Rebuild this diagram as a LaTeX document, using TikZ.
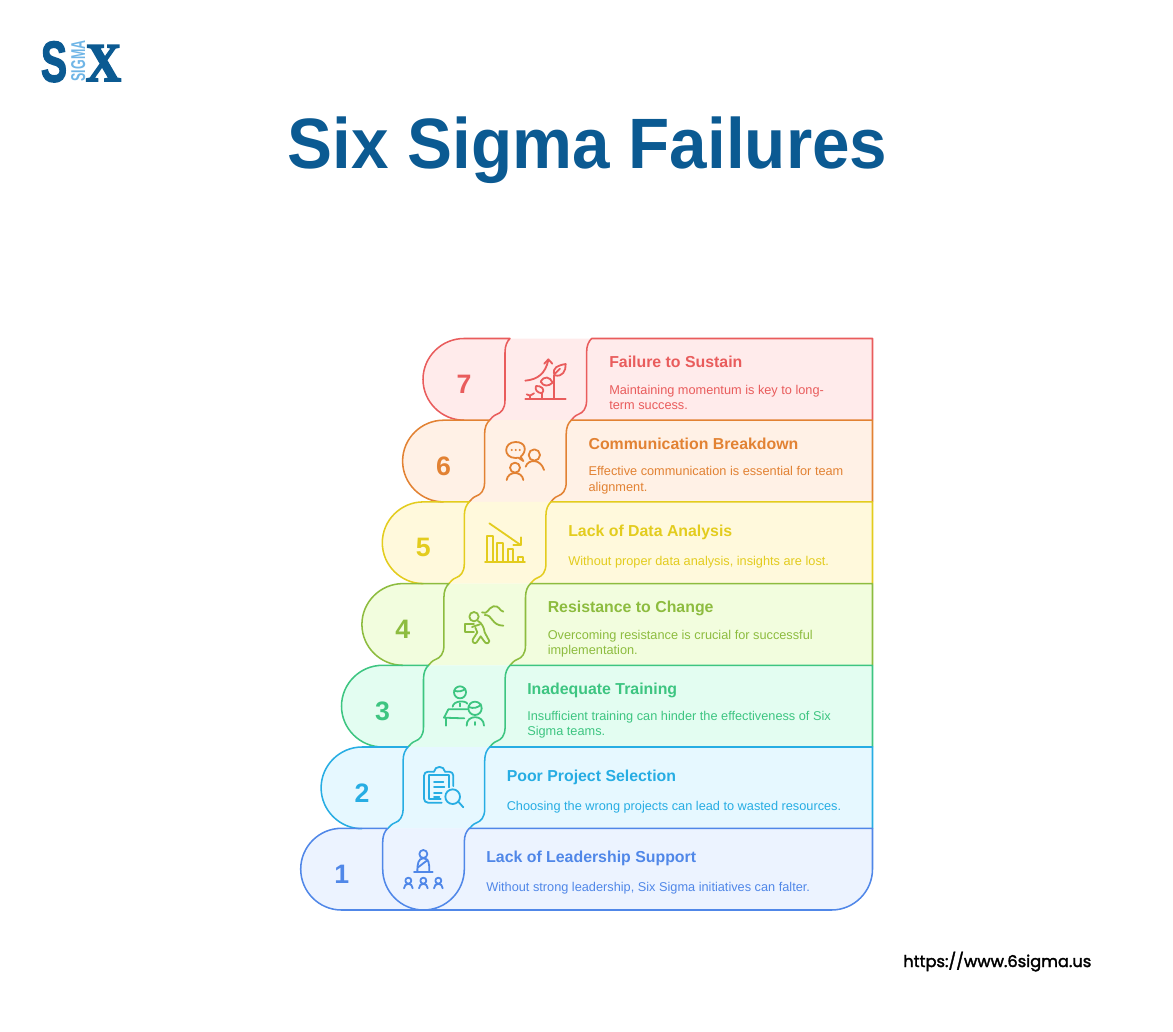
\documentclass[tikz,border=0pt]{standalone}
\usepackage{fontspec}
\setmainfont{Liberation Sans}
\newfontfamily\popf{Poppins}
\newfontfamily\logoserif{Liberation Serif}
\newcommand{\stroked}[2]{\special{pdf:code 2 Tr #1 w}#2\special{pdf:code 0 Tr}}
\definecolor{navy}{HTML}{0B5A92}
\definecolor{skyl}{HTML}{6FB5E6}
\definecolor{sA}{HTML}{5087E8}\definecolor{fA}{HTML}{ECF3FF}
\definecolor{sB}{HTML}{27ADE3}\definecolor{fB}{HTML}{E6F8FF}
\definecolor{sC}{HTML}{3DC581}\definecolor{fC}{HTML}{E3FDF1}
\definecolor{sD}{HTML}{8DBC3F}\definecolor{fD}{HTML}{F2FDDE}
\definecolor{sE}{HTML}{E3CC1E}\definecolor{fE}{HTML}{FFF9DC}
\definecolor{sF}{HTML}{E28233}\definecolor{fF}{HTML}{FFF1E6}
\definecolor{sG}{HTML}{E95C5C}\definecolor{fG}{HTML}{FFEBEB}
\tikzset{
  outline/.style={line width=1.15pt,line join=round},
  headtxt/.style={anchor=base west,inner sep=0pt,font=\fontsize{11.9}{14}\selectfont\bfseries},
  desctxt/.style={anchor=base west,inner sep=0pt,font=\fontsize{9.56}{11}\selectfont},
  numtxt/.style={anchor=base,inner sep=0pt,font=\fontsize{20}{22}\selectfont\bfseries},
  ico/.style={line width=1.35pt,line cap=round,line join=round},
}
\newcommand{\iconscope}[3]{\begin{scope}[shift={(#1,#2)},x=0.25pt,y=-0.25pt,ico,draw=#3,fill=none]}
\begin{document}
\begin{tikzpicture}[x=0.75pt,y=-0.75pt]
\useasboundingbox (0,0) rectangle (1173,1031);
\def\RR{872.5}
% fills
\foreach \L/\T/\cf in {423/338.5/fG,402.6/420.2/fF,382.3/501.9/fE,361.9/583.6/fD,341.5/665.3/fC,321.1/747/fB}{
  \pgfmathsetmacro\B{\T+81.7}
  \fill[\cf] ({\L+41},\T) .. controls ({\L+18.5},\T) and (\L,{\T+18.4}) .. (\L,{\T+40.85}) .. controls (\L,{\T+63.3}) and ({\L+18.5},\B) .. ({\L+41},\B) -- (\RR,\B) -- (\RR,\T) -- cycle;
}
\fill[fA] (341.5,828.3) .. controls (319,828.3) and (300.7,846.7) .. (300.7,869.1) .. controls (300.7,891.6) and (319,910) .. (341.5,910) -- (831.5,910) .. controls (854,910) and (\RR,891.6) .. (\RR,869) -- (\RR,828.3) -- cycle;
% outlines
\foreach \L/\T/\cs in {423/338.5/sG,402.6/420.2/sF,382.3/501.9/sE,361.9/583.6/sD,341.5/665.3/sC,321.1/747/sB}{
  \pgfmathsetmacro\B{\T+81.7}
  \pgfmathsetmacro\cl{\L+82}
  \pgfmathsetmacro\cc{\L+163.6}
  \draw[outline,\cs] ({\cl-15.4},\B) .. controls ({\cl-13.5},{\B-2}) and ({\cl-12},{\B-4.5}) .. ({\cl-8},{\B-6}) .. controls ({\cl-4},{\B-7.5}) and (\cl,{\B-11}) .. (\cl,{\B-20}) -- (\cl,{\T+14}) .. controls (\cl,{\T+7}) and ({\cl+2},{\T+3}) .. ({\cl+5},\T) -- ({\L+41},\T) .. controls ({\L+18.5},\T) and (\L,{\T+18.4}) .. (\L,{\T+40.85}) .. controls (\L,{\T+63.3}) and ({\L+18.5},\B) .. ({\L+41},\B);
  \draw[outline,\cs] ({\cc-15.4},\B) .. controls ({\cc-13.5},{\B-2}) and ({\cc-12},{\B-4.5}) .. ({\cc-8},{\B-6}) .. controls ({\cc-4},{\B-7.5}) and (\cc,{\B-11}) .. (\cc,{\B-20}) -- (\cc,{\T+14}) .. controls (\cc,{\T+7}) and ({\cc+2},{\T+3}) .. ({\cc+5},\T) -- (\RR,\T) -- (\RR,\B);
}
\draw[outline,sA] (387.7,828.3) -- (341.5,828.3) .. controls (319,828.3) and (300.7,846.7) .. (300.7,869.1) .. controls (300.7,891.6) and (319,910) .. (341.5,910) -- (831.5,910) .. controls (854,910) and (\RR,891.6) .. (\RR,869) -- (\RR,828.3) -- (469.3,828.3) .. controls (466.3,831.3) and (464.3,835.3) .. (464.3,842.3) -- (464.3,869) .. controls (464.3,891.6) and (446,910) .. (423.5,910) .. controls (401,910) and (382.7,891.6) .. (382.7,869) -- (382.7,842.3) .. controls (382.7,835.3) and (384.7,831.3) .. (387.7,828.3);
% numbers
\node[numtxt,sG] (n7) at (464,393.5) {7};
\node[numtxt,sF] (n6) at (443.6,475.2) {6};
\node[numtxt,sE] (n5) at (423.3,556.9) {5};
\node[numtxt,sD] (n4) at (402.9,638.6) {4};
\node[numtxt,sC] (n3) at (382.5,720.3) {3};
\node[numtxt,sB] (n2) at (362.1,802) {2};
\node[numtxt,sA] (n1) at (341.7,883.3) {1};
% headings
\node[headtxt,sG] (h7) at (609,367) {Failure to Sustain};
\node[headtxt,sF] (h6) at (588.3,449) {Communication Breakdown};
\node[headtxt,sE] (h5) at (568,536) {Lack of Data Analysis};
\node[headtxt,sD] (h4) at (547.5,612) {Resistance to Change};
\node[headtxt,sC] (h3) at (527,694) {Inadequate Training};
\node[headtxt,sB] (h2) at (506.5,781) {Poor Project Selection};
\node[headtxt,sA] (h1) at (486,862) {Lack of Leadership Support};
% descriptions
\node[desctxt,sG] (d7a) at (609,394.5) {Maintaining momentum is key to long-};
\node[desctxt,sG] (d7b) at (609,409.5) {term success.};
\node[desctxt,sF] (d6a) at (588.3,475.5) {Effective communication is essential for team};
\node[desctxt,sF] (d6b) at (588.3,491) {alignment.};
\node[desctxt,sE] (d5a) at (568,565) {Without proper data analysis, insights are lost.};
\node[desctxt,sD] (d4a) at (547.5,639.5) {Overcoming resistance is crucial for successful};
\node[desctxt,sD] (d4b) at (547.5,654.5) {implementation.};
\node[desctxt,sC] (d3a) at (527,720.5) {Insufficient training can hinder the effectiveness of Six};
\node[desctxt,sC] (d3b) at (527,735.5) {Sigma teams.};
\node[desctxt,sB] (d2a) at (506.5,810) {Choosing the wrong projects can lead to wasted resources.};
\node[desctxt,sA] (d1a) at (486,891) {Without strong leadership, Six Sigma initiatives can falter.};
% icon 7
\iconscope{510}{350}{sG}
\draw (46,147) -- (167,147);
\draw (132,147) -- (132,76);
\draw (134,76) .. controls (124,52) and (145,46) .. (167,42) .. controls (168,62) and (158,82) .. (134,76);
\draw (134,72) -- (150,56);
\draw (46,92) .. controls (85,88) and (106,70) .. (115,30);
\draw (103,41) -- (115,28) -- (127,41);
\draw (92,95) .. controls (103,76) and (120,80) .. (128,98) .. controls (115,110) and (100,110) .. (92,95);
\draw (96,147) -- (96,128);
\draw (96,130) .. controls (80,128) and (74,118) .. (78,108) .. controls (92,106) and (108,118) .. (96,130);
\draw (60,147) -- (60,136);
\draw (50,133) -- (60,137) -- (72,130);
\end{scope}
% icon 6
\iconscope{490}{430}{sF}
\draw (100,93) -- (92,80) .. controls (112,64) and (108,36) .. (77,36) .. controls (40,36) and (38,84) .. (77,84) -- (85,83) -- (100,93);
\fill[sF] (65,60) circle[radius=3.5] (77,60) circle[radius=3.5] (89,60) circle[radius=3.5];
\draw (133,75) circle[radius=17];
\draw (107,110) .. controls (115,86) and (152,86) .. (162,120);
\draw (75,113) circle[radius=15];
\draw (50,150) .. controls (54,122) and (96,122) .. (100,150);
\end{scope}
% icon 5
\begin{scope}[shift={(350,330)},x=0.25pt,y=-0.25pt,ico,draw=sE]
\draw (405,695) -- (525,695);
\draw (410,695) -- (410,618) -- (428,618) -- (428,695);
\draw (442,695) -- (442,638) -- (458,638) -- (458,695);
\draw (473,695) -- (473,658) -- (489,658) -- (489,695);
\draw (503,695) -- (503,680) -- (520,680) -- (520,695);
\draw (418,580) -- (512,645);
\draw (512,622) -- (512,645) -- (490,645);
\end{scope}
% icon 4
\iconscope{450}{595}{sD}
\draw (72,65) circle[radius=14];
\draw (72,88) -- (45,88) -- (45,110) -- (72,110);
\draw (84,78) .. controls (96,84) and (102,98) .. (104,112) -- (118,138) .. controls (116,148) and (106,146) .. (102,138) -- (92,124) -- (80,142) .. controls (74,148) and (66,142) .. (68,134) -- (82,112) -- (76,98);
\draw (66,96) -- (90,88);
\draw (96,52) .. controls (114,60) and (112,40) .. (130,34) .. controls (148,30) and (148,48) .. (160,50);
\draw (104,60) .. controls (128,58) and (124,92) .. (160,92);
\end{scope}
% icon 3
\iconscope{430}{675}{sC}
\draw (90,52) circle[radius=18];
\draw (73,47) .. controls (85,52) and (98,48) .. (106,42);
\draw (68,95) .. controls (70,76) and (108,76) .. (112,86);
\draw (90,85) -- (90,94);
\draw (112,103) -- (55,103) -- (42,128) -- (103,130);
\draw (48,130) -- (48,152);
\draw (135,100) circle[radius=20];
\draw (116,96) .. controls (130,102) and (145,98) .. (153,88);
\draw (110,152) .. controls (108,118) and (162,118) .. (162,152);
\draw (135,141) -- (135,150);
\end{scope}
% icon 2
\iconscope{410}{760}{sB}
\draw[rounded corners=3pt] (95,128) -- (42,128) -- (42,35) -- (72,35);
\draw (72,35) .. controls (74,16) and (103,16) .. (105,35);
\draw[rounded corners=3pt] (105,35) -- (130,35) -- (130,78);
\draw (58,45) -- (58,118) -- (92,118);
\draw (58,45) -- (118,45) -- (118,82);
\draw (72,65) -- (100,65);
\draw (72,82) -- (103,82);
\draw (72,98) -- (95,98);
\draw (72,112) -- (88,112);
\draw (128,110) circle[radius=22];
\draw (145,125) -- (160,142);
\end{scope}
% icon 1
\iconscope{390}{840}{sA}
\draw (100,42) circle[radius=12];
\draw (82,95) .. controls (82,70) and (85,55) .. (100,55) .. controls (117,55) and (118,70) .. (118,95);
\draw (84,82) -- (113,60);
\draw (72,97) -- (128,97);
\foreach \px in {55,100,145}{
  \draw (\px,122) circle[radius=9];
  \draw ({\px-13},145) .. controls ({\px-13},127) and ({\px+13},127) .. ({\px+13},145);
}
\end{scope}
% title
\node[inner sep=0pt,anchor=base,text=navy,xscale=0.945,font=\fontsize{53.5}{60}\selectfont\bfseries] (title) at (587.5,168) {Six Sigma Failures};
% logo
\node[inner sep=0pt,anchor=base,text=navy,xscale=0.68,font=\fontsize{43}{50}\selectfont\bfseries] (logoS) at (54,81.5) {\stroked{1.2}{S}};
\node[inner sep=0pt,anchor=base,text=navy,xscale=0.9,font=\fontsize{41}{50}\logoserif\bfseries] (logoX) at (103.5,81) {\stroked{1.3}{X}};
\node[inner sep=0pt,anchor=base,text=skyl,rotate=90,xscale=0.62,font=\fontsize{15}{17}\selectfont\bfseries] (logoG) at (85,61) {SIGMA};
% url
\node[inner sep=0pt,anchor=base west,text=black,font=\fontsize{12.2}{16}\popf] (url) at (903,967) {\stroked{0.25}{https://www.6sigma.us}};
\end{tikzpicture}
\end{document}
